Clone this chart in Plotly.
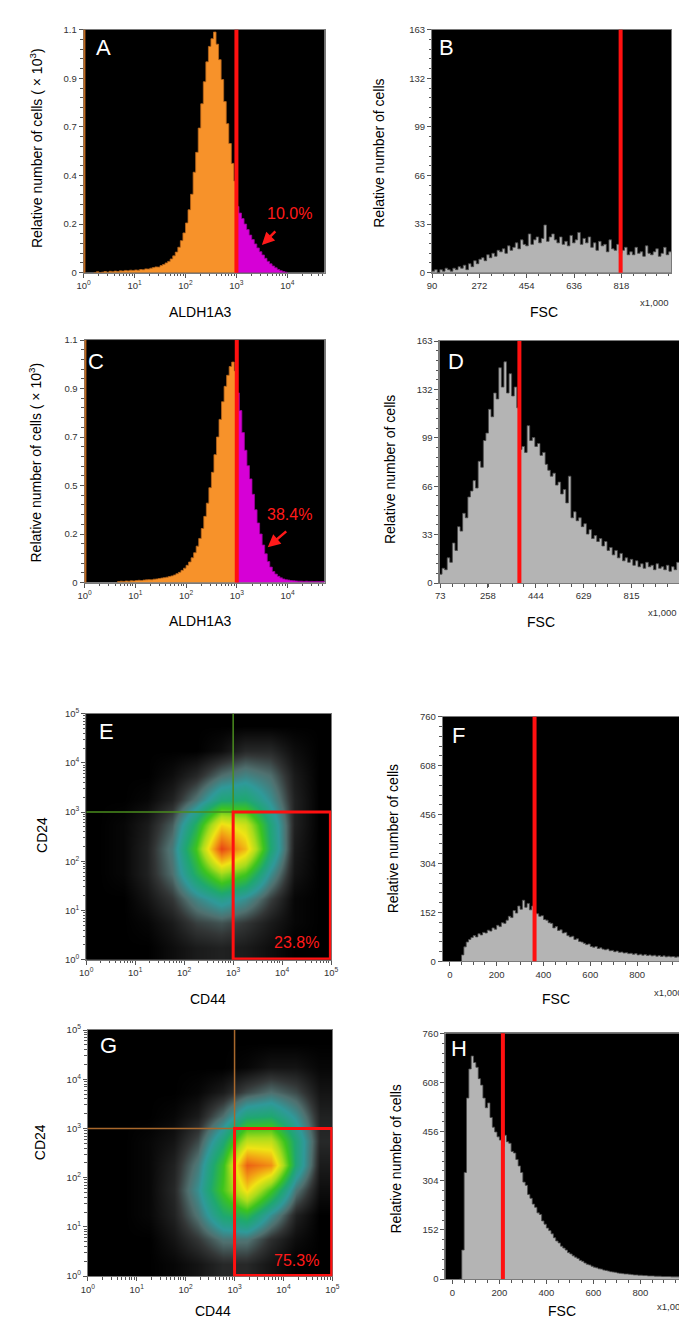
import numpy as np
import plotly.graph_objects as go

W, H = 687, 1322

# ---------------- data ----------------
# ALDH1A3 histograms, counts (x10^3) per 0.05-decade channel, channels start at log10 = *_start
aldh_bin = 0.05
aldh_gate = 3.0  # log10(10^3)
a_start = 0.20
a_counts = [0.0, 0.004, 0.0, 0.002, 0.005, 0.002, 0.006, 0.004, 0.007, 0.005, 0.008, 0.007, 0.010, 0.008, 0.011, 0.010,
            0.012, 0.011, 0.014, 0.013, 0.017, 0.016, 0.020, 0.023, 0.026, 0.025, 0.032, 0.037, 0.044, 0.051, 0.062, 0.076,
            0.093, 0.115, 0.145, 0.180,
            0.225, 0.285, 0.355, 0.455, 0.545, 0.655, 0.765, 0.865, 0.955, 1.025, 1.06, 1.09, 1.035, 0.965, 0.875, 0.775,
            0.675, 0.585, 0.495, 0.415,
            0.300, 0.270, 0.245, 0.220, 0.195, 0.170, 0.150, 0.130, 0.112, 0.095, 0.080, 0.065, 0.051, 0.040, 0.030, 0.022,
            0.014, 0.009, 0.005, 0.002]
c_start = 0.65
c_counts = [0.004, 0.006, 0.005, 0.007, 0.006, 0.008, 0.007,
            0.009, 0.010, 0.009, 0.011, 0.012, 0.013, 0.012, 0.015, 0.016, 0.018, 0.020, 0.022, 0.024, 0.027, 0.030, 0.034,
            0.040, 0.046, 0.055, 0.065,
            0.078, 0.093, 0.112, 0.135, 0.165, 0.200, 0.245, 0.300, 0.360, 0.430, 0.500, 0.580, 0.660, 0.740, 0.820, 0.890,
            0.940, 0.980, 1.000, 0.960,
            0.860, 0.780, 0.680, 0.600, 0.530, 0.470, 0.400, 0.330, 0.270, 0.220, 0.170, 0.130, 0.095, 0.070, 0.050, 0.038,
            0.028, 0.021, 0.016, 0.013,
            0.011, 0.009, 0.008, 0.007, 0.006, 0.006, 0.005, 0.006, 0.005, 0.005, 0.004, 0.005, 0.004, 0.004, 0.004]
aldh_yticks = [0, 0.22, 0.44, 0.66, 0.88, 1.1]
a_yticktext = ['0', '0.2', '0.4', '0.7', '0.9', '1.1']
c_yticktext = ['0', '0.2', '0.5', '0.7', '0.9', '1.1']
aldh_xticks = [0, 1, 2, 3, 4]
a_pct, c_pct = '10.0%', '38.4%'

# FSC histograms, counts per 10-unit channel (x1,000)
fsc_bin = 10
b_start = 90
b_counts = [1, 2, 0, 2, 1, 3, 2, 1, 3,
            2, 4, 3, 5, 2, 6, 4,
            8, 6, 9, 10, 8, 12, 10, 13, 11, 15, 14, 16, 13, 18, 15,
            17, 20, 16, 22, 19, 18, 26, 19, 22, 24, 20, 23, 32, 21, 24,
            26, 22, 20, 24, 19, 21, 18, 25, 20, 22, 27, 19, 23, 20, 24,
            17, 20, 15, 21, 18, 19, 14, 22, 16, 15, 19, 13, 15, 17, 12,
            14, 12, 17, 13, 14, 11, 18, 13, 12, 14, 16, 11, 13, 17, 12, 14]
b_gate = 815
b_xticks = [90, 272, 454, 636, 818]
d_start = 70
d_counts = [6, 10, 9, 17, 14, 27, 22, 38, 35, 47,
            44, 58, 62, 69, 64, 82, 78, 96, 101, 117,
            112, 128, 124, 145, 132, 149, 128, 141, 126, 132,
            118, 90, 92, 88, 106, 96, 98, 92, 94, 86,
            88, 80, 76, 72, 74, 66, 68, 60, 63, 54,
            72, 44, 48, 42, 44, 38, 40, 33, 36, 30,
            32, 28, 30, 25, 28, 22, 24, 19, 22, 17,
            20, 15, 17, 14, 16, 12, 15, 11, 13, 10,
            14, 11, 12, 9, 13, 10, 11, 9, 12, 8,
            11, 9, 14]
d_gate = 380
d_xticks = [73, 258, 444, 629, 815]
bd_yticks = [0, 32.6, 65.2, 97.8, 130.4, 163]
bd_yticktext = ['0', '33', '66', '99', '132', '163']

f_start = 50
f_counts = [20, 45, 60, 68, 74, 80, 76, 86, 82, 90,
            88, 97, 94, 104, 100, 112, 108, 120, 118, 128,
            140, 136, 158, 150, 172, 162, 190, 168, 180, 160,
            172, 150, 148, 140, 142, 130, 128, 120, 118, 104,
            108, 96, 98, 88, 90, 80, 76, 78, 68, 70,
            62, 60, 56, 52, 54, 46, 44, 46, 40, 42,
            38, 36, 38, 33, 34, 30, 32, 28, 29, 26,
            27, 24, 25, 22, 24, 20, 22, 19, 21, 18,
            20, 17, 19, 16, 18, 15, 17, 14, 16, 14,
            15, 13, 14, 13, 14]
f_gate = 362
h_start = 30
h_counts = [0, 90, 330, 560, 650, 690, 670, 655, 620, 600,
            560, 530, 545, 500, 470, 455, 440, 430, 410, 445,
            425, 420, 395, 390, 370, 350, 330, 300, 290, 262,
            250, 232, 222, 205, 200, 180, 170, 158, 150, 140,
            128, 118, 112, 102, 96, 90, 82, 78, 72, 68,
            64, 58, 55, 50, 46, 44, 40, 37, 35, 32,
            31, 28, 27, 25, 23, 22, 21, 19, 18, 17,
            16, 16, 15, 14, 13, 13, 12, 12, 11, 11,
            10, 10, 10, 9, 9, 9, 8, 8, 8, 8,
            7, 7, 7, 7, 7, 6, 6]
h_gate = 215
fh_xticks = [0, 200, 400, 600, 800]
fh_yticks = [0, 152, 304, 456, 608, 760]

# CD44 / CD24 density (relative), cell centres in log10 units, rows bottom -> top
dens_centers = [0.25, 0.75, 1.25, 1.75, 2.25, 2.75, 3.25, 3.75, 4.25, 4.75]
e_density = [
    [0, 0, 0, 0.02, 0.04, 0.05, 0.04, 0.02, 0, 0],
    [0, 0, 0.01, 0.04, 0.09, 0.11, 0.08, 0.04, 0.01, 0],
    [0, 0, 0.03, 0.08, 0.18, 0.26, 0.20, 0.09, 0.01, 0],
    [0, 0.01, 0.05, 0.14, 0.35, 0.55, 0.45, 0.20, 0.03, 0],
    [0, 0.01, 0.05, 0.16, 0.45, 0.95, 0.75, 0.32, 0.04, 0],
    [0, 0.01, 0.04, 0.12, 0.35, 0.70, 0.62, 0.30, 0.05, 0],
    [0, 0, 0.01, 0.05, 0.15, 0.30, 0.32, 0.20, 0.05, 0],
    [0, 0, 0, 0.02, 0.06, 0.14, 0.18, 0.14, 0.04, 0],
    [0, 0, 0, 0, 0, 0.02, 0.06, 0.06, 0.02, 0],
    [0, 0, 0, 0, 0, 0, 0, 0, 0, 0],
]
g_density = [
    [0, 0, 0, 0.01, 0.03, 0.06, 0.06, 0.03, 0, 0],
    [0, 0, 0, 0.03, 0.08, 0.15, 0.15, 0.07, 0.02, 0],
    [0, 0, 0.01, 0.05, 0.15, 0.32, 0.38, 0.20, 0.05, 0],
    [0, 0, 0.01, 0.06, 0.20, 0.45, 0.70, 0.45, 0.15, 0.02],
    [0, 0, 0.01, 0.05, 0.16, 0.42, 0.90, 0.82, 0.30, 0.04],
    [0, 0, 0.01, 0.03, 0.10, 0.30, 0.60, 0.60, 0.30, 0.06],
    [0, 0, 0, 0.01, 0.04, 0.14, 0.30, 0.32, 0.20, 0.05],
    [0, 0, 0, 0, 0.01, 0.04, 0.10, 0.14, 0.10, 0.03],
    [0, 0, 0, 0, 0, 0, 0.01, 0.03, 0.03, 0.01],
    [0, 0, 0, 0, 0, 0, 0, 0, 0, 0],
]
quad_gate = 3.0  # log10(10^3) on both CD44 and CD24
e_pct, g_pct = '23.8%', '75.3%'
log_xticks = [0, 1, 2, 3, 4, 5]

# ---------------- layout helpers ----------------
# panel boxes in pixels: left, right, top, bottom
boxes = {
    'A': (70, 316, 15, 260),
    'B': (425.7, 670, 15, 260),
    'C': (71, 316, 328, 572.7),
    'D': (433.3, 678.3, 329, 573.3),
    'E': (72.7, 322.7, 705, 953.3),
    'F': (436.7, 683.3, 708.3, 955),
    'G': (74.3, 324, 1024.3, 1272.7),
    'H': (439.3, 687, 1027.7, 1275.7),
}
order = ['A', 'B', 'C', 'D', 'E', 'F', 'G', 'H']

def px(x):
    return x / W

def py(y):
    return 1 - y / H

def sfx(letter):
    i = order.index(letter) + 1
    return '' if i == 1 else str(i)

def sup(n):
    return '10<sup>%d</sup>' % n

def log_minor(hi):
    return [n + np.log10(k) for n in range(0, 6) for k in range(2, 10) if n + np.log10(k) < hi]

tickfont = dict(family='Arial', size=9.5, color='#333333')
common = dict(showgrid=False, zeroline=False, showline=True, mirror=True, linecolor='#7a7a7a', linewidth=1,
              ticks='outside', ticklen=4, tickcolor='#555555', tickwidth=1, tickfont=tickfont, fixedrange=True)

def minor_lin(tick0, dtick):
    return dict(tickmode='linear', tick0=tick0, dtick=dtick, ticks='outside', ticklen=2.5, tickcolor='#555555',
                showgrid=False)

def minor_arr(vals):
    return dict(tickmode='array', tickvals=vals, ticks='outside', ticklen=2.5, tickcolor='#555555', showgrid=False)

fig = go.Figure()
layout = {}

def set_axes(letter, xr, yr, xt, xtt, yt, ytt, xminor, yminor):
    l, r, t, b = boxes[letter]
    s = sfx(letter)
    layout['xaxis' + s] = dict(domain=[px(l), px(r)], range=xr, anchor='y' + s, tickmode='array', tickvals=xt,
                               ticktext=xtt, minor=xminor, **common)
    layout['yaxis' + s] = dict(domain=[py(b), py(t)], range=yr, anchor='x' + s, tickmode='array', tickvals=yt,
                               ticktext=ytt, minor=yminor, **common)

def step(start, width, counts):
    edges = start + width * np.arange(len(counts) + 1)
    xs = np.concatenate([[edges[0]], edges])
    ys = np.concatenate([[0], counts, [counts[-1]]])
    return xs, ys

def add_hist(letter, start, width, counts, fillc, linec):
    xs, ys = step(start, width, counts)
    s = sfx(letter)
    fig.add_trace(go.Scatter(x=xs, y=ys, mode='lines', line=dict(shape='hv', color=linec, width=0.8),
                             fill='tozeroy', fillcolor=fillc, xaxis='x' + s, yaxis='y' + s,
                             hoverinfo='skip', showlegend=False))

def gate_line(letter, x, color, width=4):
    s = sfx(letter)
    return dict(type='line', xref='x' + s, yref='y' + s + ' domain', x0=x, x1=x, y0=0, y1=1,
                line=dict(color=color, width=width), layer='above')

shapes = []
annotations = []

def text(x, y, t, size=14, color='black', angle=0, xanchor='center'):
    annotations.append(dict(x=px(x), y=py(y), xref='paper', yref='paper', text=t, showarrow=False,
                            font=dict(family='Arial', size=size, color=color), textangle=angle,
                            xanchor=xanchor, yanchor='middle'))

# ---------------- A and C: ALDH1A3 ----------------
for letter, start, counts, ytt in [('A', a_start, a_counts, a_yticktext), ('C', c_start, c_counts, c_yticktext)]:
    n_low = int(round((aldh_gate - start) / aldh_bin))
    add_hist(letter, start, aldh_bin, counts[:n_low], '#f7922a', '#b8661c')
    add_hist(letter, aldh_gate, aldh_bin, counts[n_low:], '#d600d6', '#9a009a')
    set_axes(letter, [0, 4.73], [0, 1.1], aldh_xticks, [sup(n) for n in aldh_xticks], aldh_yticks, ytt,
             minor_arr(log_minor(4.73)), minor_lin(0, 0.044))
    shapes.append(gate_line(letter, 0.012, '#c06a20', 2.5))
    shapes.append(gate_line(letter, aldh_gate, '#ff1010', 4))

# ---------------- B, D, F, H: FSC ----------------
fsc_panels = [
    ('B', b_start, b_counts, b_gate, [90, 1010], [0, 163], b_xticks, b_xticks, bd_yticks, bd_yticktext,
     minor_lin(90, 45.5), minor_lin(0, 6.52)),
    ('D', d_start, d_counts, d_gate, [70, 1001], [0, 163], d_xticks, d_xticks, bd_yticks, bd_yticktext,
     minor_lin(73, 46.4), minor_lin(0, 6.52)),
    ('F', f_start, f_counts, f_gate, [-30, 1002], [0, 760], fh_xticks, fh_xticks, fh_yticks, fh_yticks,
     minor_lin(0, 50), minor_lin(0, 30.4)),
    ('H', h_start, h_counts, h_gate, [-30, 1003], [0, 760], fh_xticks, fh_xticks, fh_yticks, fh_yticks,
     minor_lin(0, 50), minor_lin(0, 30.4)),
]
for letter, start, counts, gate, xr, yr, xt, xtt, yt, ytt, xm, ym in fsc_panels:
    add_hist(letter, start, fsc_bin, counts, '#b4b4b4', '#4a4a4a')
    set_axes(letter, xr, yr, xt, [str(v) for v in xtt], yt, [str(v) for v in ytt], xm, ym)
    shapes.append(gate_line(letter, gate, '#ff1010', 4))

# ---------------- E and G: CD44 / CD24 ----------------
dens_scale = [[0, '#000000'], [0.03, '#141414'], [0.08, '#333636'], [0.14, '#50706f'], [0.22, '#2f9a9a'],
              [0.32, '#1fa870'], [0.44, '#3cc41e'], [0.56, '#a8dc1c'], [0.68, '#f0e414'], [0.8, '#f29a14'],
              [1, '#e62814']]
for letter, dens, gate_col in [('E', e_density, '#4a8c1e'), ('G', g_density, '#a8682c')]:
    s = sfx(letter)
    fig.add_trace(go.Heatmap(x=dens_centers, y=dens_centers, z=dens, zmin=0, zmax=1, zsmooth='best',
                             colorscale=dens_scale, showscale=False, xaxis='x' + s, yaxis='y' + s, hoverinfo='skip'))
    set_axes(letter, [0, 5], [0, 5], log_xticks, [sup(n) for n in log_xticks], log_xticks,
             [sup(n) for n in log_xticks], minor_arr(log_minor(5)), minor_arr(log_minor(5)))
    shapes.append(dict(type='line', xref='x' + s, yref='y' + s, x0=quad_gate, x1=quad_gate, y0=quad_gate, y1=5,
                       line=dict(color=gate_col, width=1.5)))
    shapes.append(dict(type='line', xref='x' + s, yref='y' + s, x0=0, x1=quad_gate, y0=quad_gate, y1=quad_gate,
                       line=dict(color=gate_col, width=1.5)))
    shapes.append(dict(type='rect', xref='x' + s, yref='y' + s, x0=quad_gate, x1=4.985, y0=0.015, y1=quad_gate,
                       line=dict(color='#ff1010', width=3)))

# ---------------- text ----------------
yl = 'Relative number of cells'
text(21.7, 134, yl + ' ( \u00d7 10<sup>3</sup>)', angle=-90)
text(20, 452, yl + ' ( \u00d7 10<sup>3</sup>)', angle=-90)
text(371.7, 140, yl, angle=-90)
text(383, 459, yl, angle=-90)
text(386.7, 831, yl, angle=-90)
text(388, 1155, yl, angle=-90)
text(28, 827, 'CD24', angle=-90)
text(25, 1137, 'CD24', angle=-90)

text(189, 300, 'ALDH1A3')
text(189, 612, 'ALDH1A3')
text(540, 300, 'FSC')
text(537, 613, 'FSC')
text(552, 993, 'FSC')
text(558, 1308, 'FSC')
text(197, 993, 'CD44')
text(202, 1308, 'CD44')

for x, y in [(670, 290), (678.3, 603), (684, 986), (687, 1303)]:
    text(x, y, 'x1,000', size=9.5, color='#333333', xanchor='right')

for letter, (x, y) in zip(order, [(90, 33), (440, 33), (83, 350), (450, 350), (93, 723), (453, 727), (95, 1040),
                                  (453, 1043)]):
    text(x, y, letter, size=22, color='white')

text(280, 200, a_pct, size=16, color='#ff1a1a')
text(280, 504, c_pct, size=16, color='#ff1a1a')
text(287, 936, e_pct, size=16, color='#ff1a1a')
text(287, 1257, g_pct, size=16, color='#ff1a1a')

for hx, hy, tx, ty in [(252, 232, 267, 217), (258, 537, 278, 520)]:
    annotations.append(dict(x=px(hx), y=py(hy), xref='paper', yref='paper', ax=tx - hx, ay=ty - hy, text='',
                            showarrow=True, arrowhead=2, arrowsize=1, arrowwidth=2.5, arrowcolor='#ff1a1a',
                            standoff=0))

fig.update_layout(layout)
fig.update_layout(width=W, height=H, margin=dict(l=0, r=0, t=0, b=0), paper_bgcolor='white',
                  plot_bgcolor='black', shapes=shapes, annotations=annotations, showlegend=False)
fig.write_html("out.html")
